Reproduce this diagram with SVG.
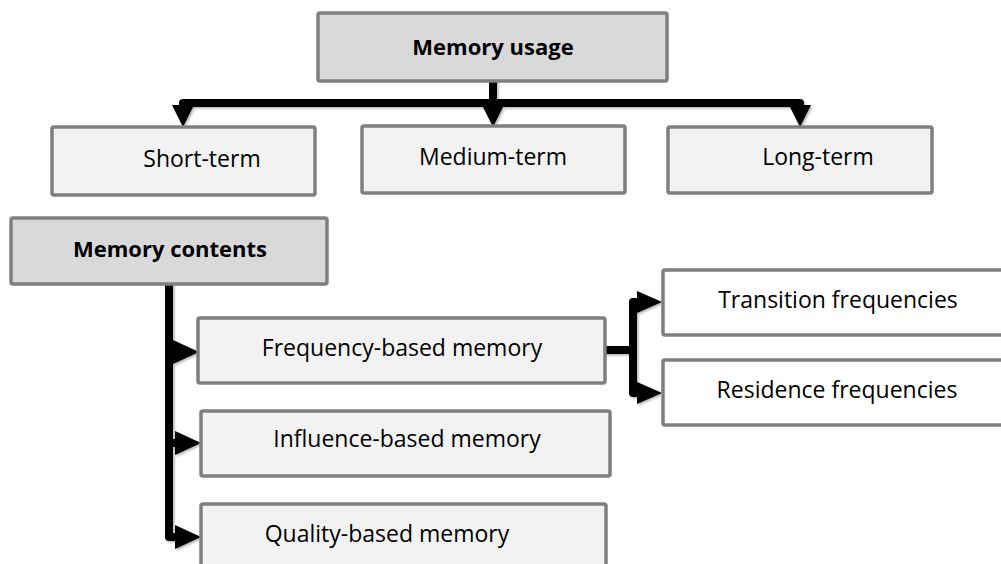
<svg xmlns="http://www.w3.org/2000/svg" width="1001" height="564" viewBox="0 0 1001 564">
<defs>
<filter id="sh" x="-10%" y="-10%" width="130%" height="130%">
<feDropShadow dx="1.5" dy="1.5" stdDeviation="1.2" flood-color="#000" flood-opacity="0.3"/>
</filter>
<style>
.box{stroke:#7f7f7f;stroke-width:3.5}
.hd{fill:#d9d9d9}
.lt{fill:#f2f2f2}
.wh{fill:#ffffff}
.t{font-family:"Open Sans","Liberation Sans",sans-serif;font-size:23px;fill:#000;text-anchor:middle}
.b{font-weight:bold;font-size:22px}
.c{fill:none;stroke:#000;stroke-width:8;stroke-linejoin:round;stroke-linecap:round}
.ah{fill:#000}
</style>
</defs>
<g id="connectors" filter="url(#sh)">
<path class="c" d="M493 80 V103 M183 110 V103 H800 V110 M493 103 V110"/>
<polygon class="ah" points="172,105 194,105 183,127"/>
<polygon class="ah" points="482,105 504,105 493,127"/>
<polygon class="ah" points="789,105 811,105 800,127"/>
<path class="c" d="M169 284 V537 H176 M169 352 H176 M169 443 H176"/>
<polygon class="ah" points="173,340 173,364 199,352"/>
<polygon class="ah" points="175,431 175,455 201,443"/>
<polygon class="ah" points="175,525 175,549 201,537"/>
<path class="c" d="M605 350 H633 M640 302 H633 V393 H640"/>
<polygon class="ah" points="637,291 637,313 662,302"/>
<polygon class="ah" points="637,382 637,404 662,393"/>
</g>
<g id="memory-usage"><rect class="box hd" x="318" y="13" width="349" height="68" rx="2"/><text class="t b" x="493" y="55">Memory usage</text></g>
<g id="short-term"><rect class="box lt" x="52" y="127" width="263" height="68" rx="2"/><text class="t" x="202" y="167">Short-term</text></g>
<g id="medium-term"><rect class="box lt" x="362" y="126" width="263" height="67" rx="2"/><text class="t" x="493" y="165">Medium-term</text></g>
<g id="long-term"><rect class="box lt" x="668" y="127" width="264" height="66" rx="2"/><text class="t" x="818" y="165">Long-term</text></g>
<g id="memory-contents"><rect class="box hd" x="11" y="218" width="316" height="66" rx="2"/><text class="t b" x="170" y="257">Memory contents</text></g>
<g id="frequency-based"><rect class="box lt" x="198" y="318" width="407" height="65" rx="2"/><text class="t" x="402" y="356">Frequency-based memory</text></g>
<g id="influence-based"><rect class="box lt" x="201" y="411" width="409" height="65" rx="2"/><text class="t" x="407" y="447">Influence-based memory</text></g>
<g id="quality-based"><rect class="box lt" x="201" y="504" width="405" height="70" rx="2"/><text class="t" x="387" y="542">Quality-based memory</text></g>
<g id="transition"><rect class="box wh" x="663" y="270" width="345" height="65" rx="2"/><text class="t" x="838" y="308">Transition frequencies</text></g>
<g id="residence"><rect class="box wh" x="663" y="360" width="345" height="65" rx="2"/><text class="t" x="837" y="398">Residence frequencies</text></g>
</svg>
